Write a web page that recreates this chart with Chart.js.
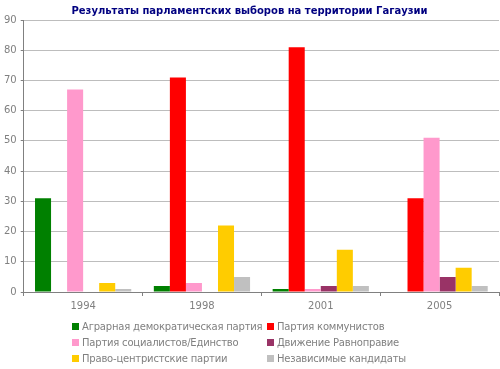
<!DOCTYPE html>
<html>
<head>
<meta charset="utf-8">
<script src="https://cdn.jsdelivr.net/npm/chart.js@4/dist/chart.umd.min.js"></script>
<style>
  html, body { margin: 0; padding: 0; background: #fff; }
  #wrap { position: relative; width: 500px; height: 369px; }
  #legend {
    position: absolute; left: 72px; top: 320px;
    display: grid; grid-template-columns: 195px 200px; row-gap: 4px;
    font: 10px "DejaVu Sans", sans-serif; color: #808080; letter-spacing: -0.2px;
  }
  #legend div { display: flex; align-items: center; height: 12px; white-space: nowrap; }
  #legend span { display: inline-block; width: 7px; height: 7px; margin-right: 3px; }
</style>
</head>
<body>
<div id="wrap">
  <canvas id="c" width="500" height="369"></canvas>
  <div id="legend"></div>
</div>
<script>
const years = ['1994', '1998', '2001', '2005'];
const parties = [
  'Аграрная демократическая партия',
  'Партия коммунистов',
  'Партия социалистов/Единство',
  'Движение Равноправие',
  'Право-центристские партии',
  'Независимые кандидаты'
];
const agrarian = [31, 2, 1, 0];
const communists = [0, 71, 81, 31];
const socialists = [67, 3, 1, 51];
const equality = [0, 0, 2, 5];
const rightCentre = [3, 22, 14, 8];
const independents = [1, 5, 2, 2];
const colors = ['#008000', '#FF0000', '#FF99CC', '#993366', '#FFCC00', '#C0C0C0'];

const series = [agrarian, communists, socialists, equality, rightCentre, independents];

// html legend, two columns like the original
const legend = document.getElementById('legend');
parties.forEach((name, i) => {
  const item = document.createElement('div');
  item.innerHTML = '<span style="background:' + colors[i] + '"></span>' + name;
  legend.appendChild(item);
});

Chart.defaults.font.family = '"DejaVu Sans", sans-serif';
Chart.defaults.font.size = 10;
Chart.defaults.color = '#808080';

new Chart(document.getElementById('c'), {
  type: 'bar',
  data: {
    labels: years,
    datasets: series.map((values, i) => ({
      label: parties[i],
      data: values,
      backgroundColor: colors[i],
      borderWidth: 0,
      categoryPercentage: 0.81,
      barPercentage: 1
    }))
  },
  options: {
    responsive: false,
    animation: false,
    layout: { padding: { left: 0, right: 1, top: 5, bottom: 53 } },
    plugins: {
      legend: { display: false },
      tooltip: { enabled: false },
      title: {
        display: true,
        text: 'Результаты парламентских выборов на территории Гагаузии',
        color: '#000080',
        font: { size: 10, weight: 'bold' },
        padding: { top: 0, bottom: 3 }
      }
    },
    scales: {
      x: {
        grid: {
          offset: true,
          drawOnChartArea: true,
          color: (ctx) => ctx.index === years.length ? '#808080' : 'transparent',
          tickColor: '#808080',
          tickLength: 4
        },
        border: { color: '#808080' },
        ticks: { padding: 4 }
      },
      y: {
        min: 0,
        max: 90,
        ticks: { stepSize: 10, padding: 4 },
        grid: { color: '#BDBDBD', tickColor: '#808080', tickLength: 3 },
        border: { color: '#808080' }
      }
    }
  }
});
</script>
</body>
</html>
